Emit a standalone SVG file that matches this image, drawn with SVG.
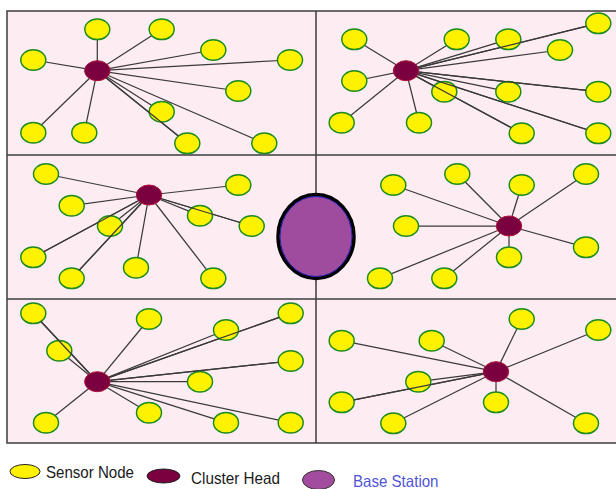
<svg xmlns="http://www.w3.org/2000/svg" width="616" height="489" viewBox="0 0 616 489">
<style>
.s{fill:#fff200;stroke:#1f8a1f;stroke-width:1.5}
.ch{fill:#7a0040;stroke:#b0103a;stroke-width:1}
.ln line{stroke:#3a3a3a;stroke-width:1.25}
.fr{stroke:#3c3c3c;stroke-width:1.5;fill:none}
.lg{font-family:"Liberation Sans",Arial,sans-serif;font-size:16.5px}
</style>
<defs>
<ellipse id="sn" rx="12.5" ry="10.3" class="s"/>
<ellipse id="chn" rx="12.7" ry="10" class="ch"/>
</defs>
<rect x="0" y="0" width="616" height="489" fill="#fff"/>
<rect x="7" y="11" width="613" height="432" fill="#fdedf2"/>
<g id="frame" class="fr">
<rect x="7" y="11" width="613" height="432"/>
<line x1="316" y1="11" x2="316" y2="443"/>
<line x1="7" y1="155" x2="620" y2="155"/>
<line x1="7" y1="299" x2="620" y2="299"/>
</g>
<g id="connectors" class="ln">
<line x1="97.3" y1="70.7" x2="97.3" y2="29.3"/>
<line x1="97.3" y1="70.7" x2="161.7" y2="29.3"/>
<line x1="97.3" y1="70.7" x2="213.3" y2="50"/>
<line x1="97.3" y1="70.7" x2="290" y2="60"/>
<line x1="97.3" y1="70.7" x2="33.3" y2="60"/>
<line x1="97.3" y1="70.7" x2="238.3" y2="91"/>
<line x1="97.3" y1="70.7" x2="161.7" y2="111.7"/>
<line x1="97.3" y1="70.7" x2="33.3" y2="132.7"/>
<line x1="97.3" y1="70.7" x2="84.3" y2="132.7"/>
<line x1="97.3" y1="70.7" x2="187.3" y2="143.3"/>
<line x1="97.3" y1="70.7" x2="264.3" y2="143.3"/>
<line x1="406" y1="70.7" x2="354.3" y2="39.3"/>
<line x1="406" y1="70.7" x2="456.7" y2="39.3"/>
<line x1="406" y1="70.7" x2="508.3" y2="39.3"/>
<line x1="406" y1="70.7" x2="598.3" y2="23.3"/>
<line x1="406" y1="70.7" x2="560" y2="50"/>
<line x1="406" y1="70.7" x2="354.3" y2="81"/>
<line x1="406" y1="70.7" x2="444.3" y2="91.7"/>
<line x1="406" y1="70.7" x2="508.3" y2="91.7"/>
<line x1="406" y1="70.7" x2="598.3" y2="91.7"/>
<line x1="406" y1="70.7" x2="341.7" y2="122.7"/>
<line x1="406" y1="70.7" x2="419" y2="122.7"/>
<line x1="406" y1="70.7" x2="521.7" y2="133.3"/>
<line x1="406" y1="70.7" x2="598.3" y2="133.3"/>
<line x1="149" y1="195" x2="46" y2="174"/>
<line x1="149" y1="195" x2="71.7" y2="205.7"/>
<line x1="149" y1="195" x2="110" y2="226"/>
<line x1="149" y1="195" x2="33.3" y2="257.3"/>
<line x1="149" y1="195" x2="71.7" y2="278.3"/>
<line x1="149" y1="195" x2="136" y2="267.7"/>
<line x1="149" y1="195" x2="213.3" y2="278.3"/>
<line x1="149" y1="195" x2="238.3" y2="185"/>
<line x1="149" y1="195" x2="200" y2="215.7"/>
<line x1="149" y1="195" x2="251.7" y2="226"/>
<line x1="509" y1="226" x2="393.3" y2="185"/>
<line x1="509" y1="226" x2="457.3" y2="174"/>
<line x1="509" y1="226" x2="521.7" y2="185"/>
<line x1="509" y1="226" x2="586" y2="174"/>
<line x1="509" y1="226" x2="406" y2="226"/>
<line x1="509" y1="226" x2="586" y2="247.3"/>
<line x1="509" y1="226" x2="509" y2="257.3"/>
<line x1="509" y1="226" x2="380" y2="278.3"/>
<line x1="509" y1="226" x2="444.3" y2="278.3"/>
<line x1="97.3" y1="381.7" x2="33.3" y2="313.3"/>
<line x1="97.3" y1="381.7" x2="59.3" y2="350.7"/>
<line x1="97.3" y1="381.7" x2="149" y2="319"/>
<line x1="97.3" y1="381.7" x2="226" y2="330"/>
<line x1="97.3" y1="381.7" x2="290.7" y2="313.3"/>
<line x1="97.3" y1="381.7" x2="290.7" y2="361"/>
<line x1="97.3" y1="381.7" x2="200" y2="381.7"/>
<line x1="97.3" y1="381.7" x2="46" y2="422.7"/>
<line x1="97.3" y1="381.7" x2="149" y2="412.7"/>
<line x1="97.3" y1="381.7" x2="226" y2="422.7"/>
<line x1="97.3" y1="381.7" x2="290.7" y2="422.7"/>
<line x1="496" y1="371.7" x2="341.7" y2="340.7"/>
<line x1="496" y1="371.7" x2="431.7" y2="340.7"/>
<line x1="496" y1="371.7" x2="521.7" y2="319"/>
<line x1="496" y1="371.7" x2="598.3" y2="330"/>
<line x1="496" y1="371.7" x2="418.3" y2="381.7"/>
<line x1="496" y1="371.7" x2="341.7" y2="402.3"/>
<line x1="496" y1="371.7" x2="496" y2="402.3"/>
<line x1="496" y1="371.7" x2="393.3" y2="423.3"/>
<line x1="496" y1="371.7" x2="586" y2="423.3"/>
</g>
<g id="sensors">
<use href="#sn" x="97.3" y="29.3"/><use href="#sn" x="161.7" y="29.3"/><use href="#sn" x="213.3" y="50"/><use href="#sn" x="290" y="60"/><use href="#sn" x="33.3" y="60"/><use href="#sn" x="238.3" y="91"/><use href="#sn" x="161.7" y="111.7"/><use href="#sn" x="33.3" y="132.7"/><use href="#sn" x="84.3" y="132.7"/><use href="#sn" x="187.3" y="143.3"/><use href="#sn" x="264.3" y="143.3"/>
<use href="#sn" x="354.3" y="39.3"/><use href="#sn" x="456.7" y="39.3"/><use href="#sn" x="508.3" y="39.3"/><use href="#sn" x="598.3" y="23.3"/><use href="#sn" x="560" y="50"/><use href="#sn" x="354.3" y="81"/><use href="#sn" x="444.3" y="91.7"/><use href="#sn" x="508.3" y="91.7"/><use href="#sn" x="598.3" y="91.7"/><use href="#sn" x="341.7" y="122.7"/><use href="#sn" x="419" y="122.7"/><use href="#sn" x="521.7" y="133.3"/><use href="#sn" x="598.3" y="133.3"/>
<use href="#sn" x="46" y="174"/><use href="#sn" x="71.7" y="205.7"/><use href="#sn" x="110" y="226"/><use href="#sn" x="33.3" y="257.3"/><use href="#sn" x="71.7" y="278.3"/><use href="#sn" x="136" y="267.7"/><use href="#sn" x="213.3" y="278.3"/><use href="#sn" x="238.3" y="185"/><use href="#sn" x="200" y="215.7"/><use href="#sn" x="251.7" y="226"/>
<use href="#sn" x="393.3" y="185"/><use href="#sn" x="457.3" y="174"/><use href="#sn" x="521.7" y="185"/><use href="#sn" x="586" y="174"/><use href="#sn" x="406" y="226"/><use href="#sn" x="586" y="247.3"/><use href="#sn" x="509" y="257.3"/><use href="#sn" x="380" y="278.3"/><use href="#sn" x="444.3" y="278.3"/>
<use href="#sn" x="33.3" y="313.3"/><use href="#sn" x="59.3" y="350.7"/><use href="#sn" x="149" y="319"/><use href="#sn" x="226" y="330"/><use href="#sn" x="290.7" y="313.3"/><use href="#sn" x="290.7" y="361"/><use href="#sn" x="200" y="381.7"/><use href="#sn" x="46" y="422.7"/><use href="#sn" x="149" y="412.7"/><use href="#sn" x="226" y="422.7"/><use href="#sn" x="290.7" y="422.7"/>
<use href="#sn" x="341.7" y="340.7"/><use href="#sn" x="431.7" y="340.7"/><use href="#sn" x="521.7" y="319"/><use href="#sn" x="598.3" y="330"/><use href="#sn" x="418.3" y="381.7"/><use href="#sn" x="341.7" y="402.3"/><use href="#sn" x="496" y="402.3"/><use href="#sn" x="393.3" y="423.3"/><use href="#sn" x="586" y="423.3"/>
</g>
<g id="crossing-connectors" class="ln">
<line x1="97.3" y1="70.7" x2="178.4" y2="136.1"/>
<line x1="406" y1="70.7" x2="586.4" y2="26.2"/>
<line x1="406" y1="70.7" x2="511.2" y2="127.6"/>
<line x1="406" y1="70.7" x2="586.7" y2="129.5"/>
<line x1="406" y1="70.7" x2="586" y2="90.4"/>
<line x1="149" y1="195" x2="43.8" y2="251.7"/>
<line x1="149" y1="195" x2="79.3" y2="270.1"/>
<line x1="149" y1="195" x2="240" y2="222.5"/>
<line x1="97.3" y1="381.7" x2="40.9" y2="321.5"/>
<line x1="97.3" y1="381.7" x2="279.2" y2="317.4"/>
<line x1="97.3" y1="381.7" x2="278.4" y2="362.3"/>
<line x1="496" y1="371.7" x2="353.8" y2="399.9"/>
</g>
<g id="cluster-heads">
<use href="#chn" x="97.3" y="70.7"/>
<use href="#chn" x="406" y="70.7"/>
<use href="#chn" x="149" y="195"/>
<use href="#chn" x="509" y="226"/>
<use href="#chn" x="97.3" y="381.7"/>
<use href="#chn" x="496" y="371.7"/>
</g>
<g id="base-station">
<ellipse cx="316" cy="236.5" rx="38" ry="42" fill="#a04c9e" stroke="#000" stroke-width="3.5"/>
<ellipse cx="316" cy="236.5" rx="36" ry="40" fill="none" stroke="#2020b0" stroke-width="1"/>
</g>
<g id="legend">
<ellipse cx="25" cy="471.5" rx="15" ry="7" fill="#fff200" stroke="#222" stroke-width="1"/>
<text class="lg" x="46" y="478" fill="#1a1a1a" textLength="88" lengthAdjust="spacingAndGlyphs">Sensor Node</text>
<ellipse cx="163.5" cy="476" rx="16.5" ry="7" fill="#7a0040" stroke="#222" stroke-width="1"/>
<text class="lg" x="191" y="483.5" fill="#1a1a1a" textLength="89" lengthAdjust="spacingAndGlyphs">Cluster Head</text>
<ellipse cx="318.5" cy="480" rx="16" ry="9.5" fill="#a34b9e" stroke="#333" stroke-width="1"/>
<text class="lg" x="353" y="486.5" fill="#4f55d8" textLength="85.5" lengthAdjust="spacingAndGlyphs">Base Station</text>
</g>
</svg>
